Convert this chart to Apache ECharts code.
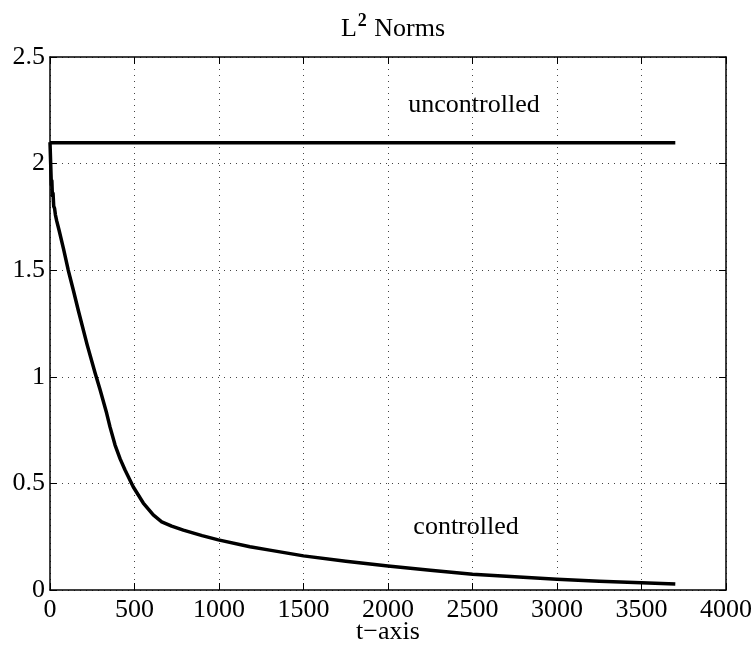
<!DOCTYPE html>
<html>
<head>
<meta charset="utf-8">
<script src="https://cdn.jsdelivr.net/npm/echarts@6/dist/echarts.min.js"></script>
<style>html,body{margin:0;padding:0;background:#fff}#c{width:755px;height:645px}</style>
</head>
<body>
<div id="c"></div>
<script>
var xName = 't\u2212axis';
var xTicks = [0, 500, 1000, 1500, 2000, 2500, 3000, 3500, 4000];
var yTicks = [0, 0.5, 1, 1.5, 2, 2.5];

var uncontrolledT = [0, 3700];
var uncontrolledV = [2.098, 2.098];

var controlledT = [0, 4, 8, 11, 14, 18, 22, 27, 32, 40, 53, 80, 108, 140, 168, 220, 266, 296, 335, 355, 385, 415, 444, 493, 552, 611, 661, 720, 789, 900, 996, 1183, 1300, 1500, 1750, 2000, 2250, 2500, 2750, 3000, 3250, 3500, 3700];
var controlledV = [2.10, 2.00, 1.90, 1.92, 1.85, 1.86, 1.80, 1.79, 1.76, 1.73, 1.69, 1.60, 1.50, 1.40, 1.31, 1.15, 1.02, 0.94, 0.83, 0.765, 0.68, 0.615, 0.563, 0.483, 0.408, 0.352, 0.32, 0.30, 0.281, 0.255, 0.235, 0.203, 0.187, 0.16, 0.135, 0.113, 0.093, 0.074, 0.062, 0.05, 0.041, 0.034, 0.028];

var annotTexts = ['uncontrolled', 'controlled'];
var annotT = [2120, 2150];
var annotV = [2.275, 0.296];

function zip(a, b) { return a.map(function (v, i) { return [v, b[i]]; }); }

var FONT = 'Liberation Serif';
var FS = 26;
var chart = echarts.init(document.getElementById('c'));
var gridLine = { show: true, lineStyle: { color: '#444', type: [1, 5], width: 1 } };
var boxLine = { show: true, onZero: false, lineStyle: { color: '#000', width: 1.5 } };
var tick = { show: true, inside: true, length: 7, lineStyle: { color: '#000', width: 1 } };
chart.setOption({
  animation: false,
  backgroundColor: '#fff',
  title: {
    text: '{n|L}{s|2}{n| Norms}',
    left: 388, top: 7, textAlign: 'center',
    textStyle: {
      rich: {
        n: { fontFamily: FONT, fontSize: FS, color: '#000', fontWeight: 'normal' },
        s: { fontFamily: FONT, fontSize: 18, color: '#000', padding: [0, 1, 16, 1] }
      }
    }
  },
  grid: { left: 50, right: 29, top: 57, bottom: 55, containLabel: false, outerBoundsMode: 'none' },
  xAxis: [{
    type: 'value', min: 0, max: 4000, interval: 500,
    name: xName, nameLocation: 'middle', nameGap: 29, nameMoveOverlap: false,
    nameTextStyle: { fontFamily: FONT, fontSize: FS, color: '#000' },
    axisLine: boxLine, axisTick: tick,
    axisLabel: { fontFamily: FONT, fontSize: FS, color: '#000', margin: 7,
      formatter: function (v) { return String(v); } },
    splitLine: gridLine
  }, {
    type: 'value', position: 'top', min: 0, max: 4000, interval: 500,
    axisLine: boxLine, axisTick: tick,
    axisLabel: { show: false }, splitLine: { show: false }
  }],
  yAxis: [{
    type: 'value', min: 0, max: 2.5, interval: 0.5,
    axisLine: boxLine, axisTick: tick,
    axisLabel: { fontFamily: FONT, fontSize: FS, color: '#000', margin: 5,
      formatter: function (v) { return String(v); } },
    splitLine: gridLine
  }, {
    type: 'value', position: 'right', min: 0, max: 2.5, interval: 0.5,
    axisLine: boxLine, axisTick: tick,
    axisLabel: { show: false }, splitLine: { show: false }
  }],
  series: [{
    type: 'line', name: 'uncontrolled', data: zip(uncontrolledT, uncontrolledV),
    showSymbol: false, lineStyle: { color: '#000', width: 3.5 }
  }, {
    type: 'line', name: 'controlled', data: zip(controlledT, controlledV),
    showSymbol: false, lineStyle: { color: '#000', width: 3.5, join: 'round' }
  }, {
    type: 'scatter', symbolSize: 0, itemStyle: { opacity: 1 },
    data: annotTexts.map(function (t, i) { return { value: [annotT[i], annotV[i]], name: t }; }),
    label: { show: true, position: 'right', distance: 0, formatter: '{b}',
      fontFamily: FONT, fontSize: FS, color: '#000', opacity: 1 }
  }]
});
</script>
</body>
</html>
